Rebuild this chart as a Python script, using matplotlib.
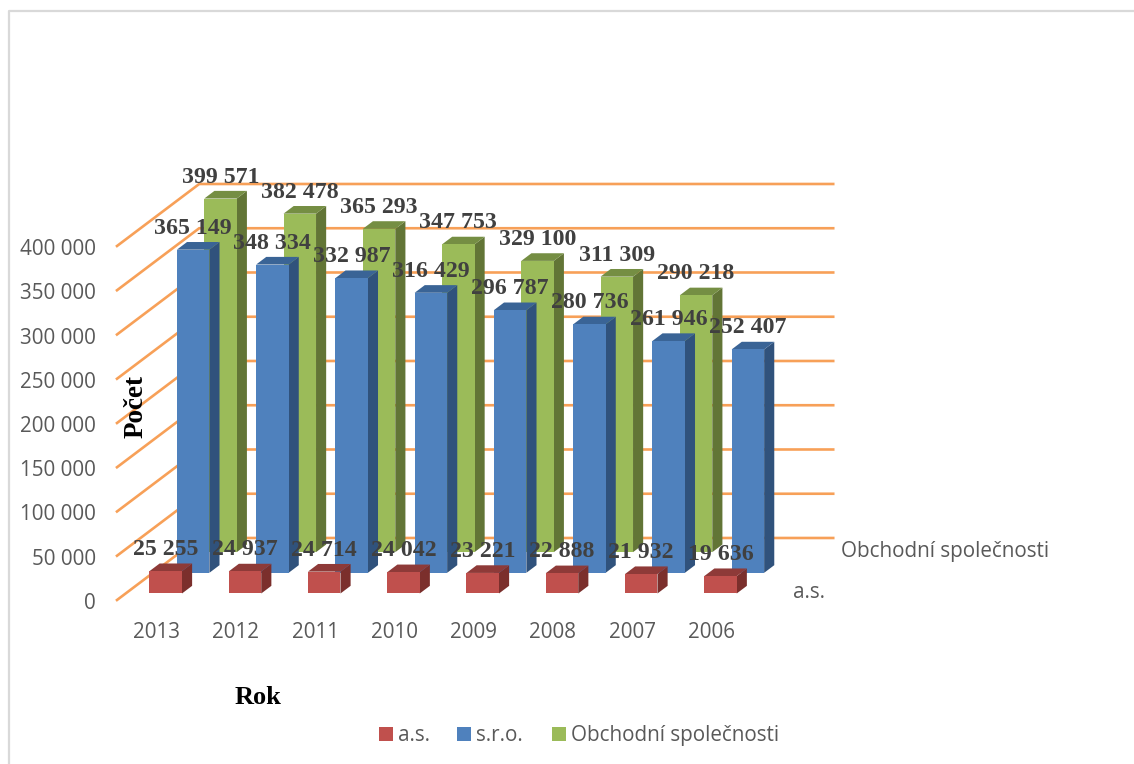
import matplotlib
matplotlib.use('agg')
import matplotlib.pyplot as plt
from matplotlib.patches import Polygon, Rectangle

years = ['2013', '2012', '2011', '2010', '2009', '2008', '2007', '2006']
val_as = [25255, 24937, 24714, 24042, 23221, 22888, 21932, 19636]
val_sro = [365149, 348334, 332987, 316429, 296787, 280736, 261946, 252407]
val_os = [399571, 382478, 365293, 347753, 329100, 311309, 290218, None]
series_names = ['a.s.', 's.r.o.', 'Obchodní společnosti']
y_ticks = [0, 50000, 100000, 150000, 200000, 250000, 300000, 350000, 400000]

# scene set up, the fake 3d is an oblique projection onto figure pixels
W, H = 1134, 764
x0, y0 = 117, 600
cat_w = 79.25
ser_dx, ser_dy = 27.4, 20.67
px_per_val = 354 / 400000.
bar_w = 0.41
bar_d = 0.37

TICK_FONT = 'Open Sans'
SERIF = 'Liberation Serif'
GREY = '#595959'
ORANGE = '#F79646'
TICK_SIZE = 14.85

colors = [('#C0504D', '#8E3A38', '#7B2F2C'),
          ('#4F81BD', '#3A6496', '#30527C'),
          ('#9BBB59', '#758E43', '#627536')]


def proj(c, s, v):
    return (x0 + c * cat_w + s * ser_dx, y0 - s * ser_dy - v * px_per_val)


def fmt(v):
    return '{:,}'.format(v).replace(',', ' ')


def draw_bar(ax, c, s, v, cols):
    left = c + (1 - bar_w) / 2 + 0.006
    right = left + bar_w
    d0 = s + (1 - bar_d) / 2
    d1 = d0 + bar_d
    front = [proj(left, d0, 0), proj(right, d0, 0), proj(right, d0, v), proj(left, d0, v)]
    side = [proj(right, d0, 0), proj(right, d1, 0), proj(right, d1, v), proj(right, d0, v)]
    top = [proj(left, d0, v), proj(right, d0, v), proj(right, d1, v), proj(left, d1, v)]
    ax.add_patch(Polygon(side, fc=cols[2], ec='none', zorder=3 + 2 - s))
    ax.add_patch(Polygon(top, fc=cols[1], ec='none', zorder=3 + 2 - s))
    ax.add_patch(Polygon(front, fc=cols[0], ec='none', zorder=3 + 2 - s))
    lx, ly = proj((left + right) / 2, d0, v)
    ax.text(lx, ly - 21.5, fmt(v), family=SERIF, weight='bold', fontsize=17.2, color='#404040',
            ha='center', va='center', zorder=10)


fig = plt.figure(figsize=(W / 100., H / 100.), dpi=100)
ax = fig.add_axes([0, 0, 1, 1])
ax.set_xlim(0, W)
ax.set_ylim(H, 0)
ax.axis('off')

# outer frame, only left and top show in the crop
ax.plot([9, 9, W], [H, 11, 11], color='#D9D9D9', lw=1.6, zorder=1)

# walls
for t in y_ticks:
    ax.plot(*zip(proj(0, 0, t), proj(0, 3, t), proj(8, 3, t)), color=ORANGE, lw=1.9, alpha=0.9,
            solid_joinstyle='miter', zorder=2)
    tx, ty = proj(0, 0, t)
    ax.text(tx - 21, ty + 3.5, fmt(t), family=TICK_FONT, fontsize=TICK_SIZE, color=GREY, ha='right', va='center')

for s, vals in enumerate([val_as, val_sro, val_os]):
    for c, v in enumerate(vals):
        if v is not None:
            draw_bar(ax, c, s, v, colors[s])

for c, yr in enumerate(years):
    tx, ty = proj(c + 0.5, 0, 0)
    ax.text(tx, ty + 32, yr, family=TICK_FONT, fontsize=TICK_SIZE, color=GREY, ha='center', va='center')

# depth axis names
ax.text(841, 551, series_names[2], family=TICK_FONT, fontsize=TICK_SIZE, color=GREY, ha='left', va='center')
ax.text(793, 593, series_names[0], family=TICK_FONT, fontsize=TICK_SIZE, color=GREY, ha='left', va='center')

# axis titles
ax.text(136, 407, 'Počet', family=SERIF, weight='bold', fontsize=19.5, color='black',
        rotation=90, ha='center', va='center')
ax.text(258, 698, 'Rok', family=SERIF, weight='bold', fontsize=19, color='black', ha='center', va='center')

# legend
for name, col, sx, tx in zip(series_names, colors, [379, 457, 552], [398, 476, 571]):
    ax.add_patch(Rectangle((sx, 727), 14, 14, fc=col[0], ec='none'))
    ax.text(tx, 735.5, name, family=TICK_FONT, fontsize=TICK_SIZE, color=GREY, ha='left', va='center')

plt.savefig('out.png', dpi=100)
